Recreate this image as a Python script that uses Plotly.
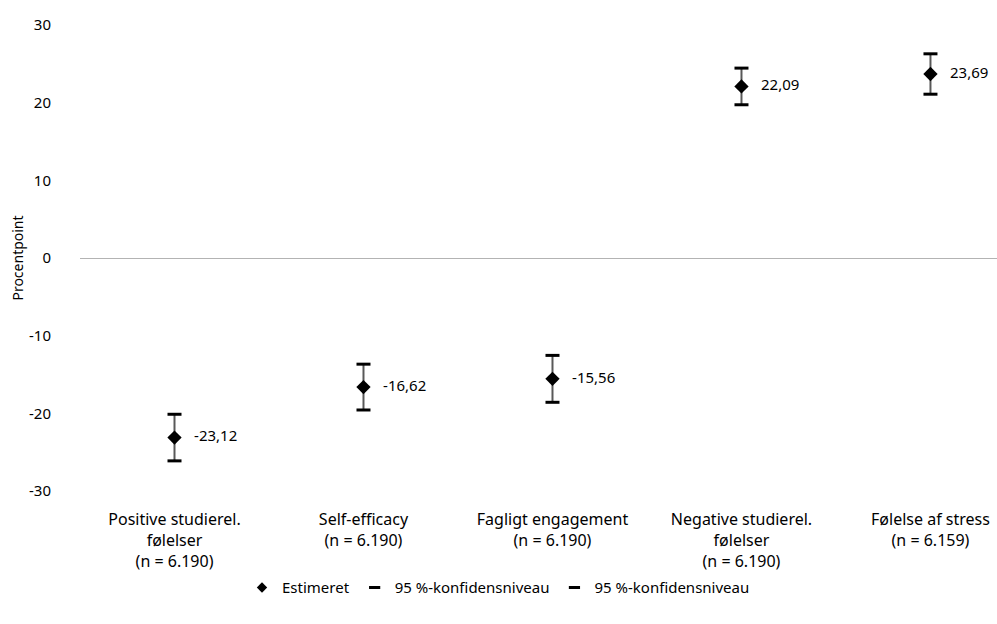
import plotly.graph_objects as go

categories = [
    "Positive studierel.<br>følelser<br>(n = 6.190)",
    "Self-efficacy<br>(n = 6.190)",
    "Fagligt engagement<br>(n = 6.190)",
    "Negative studierel.<br>følelser<br>(n = 6.190)",
    "Følelse af stress<br>(n = 6.159)",
]
estimate = [-23.12, -16.62, -15.56, 22.09, 23.69]
upper = [-20.12, -13.67, -12.54, 24.45, 26.29]
lower = [-26.12, -19.57, -18.58, 19.73, 21.09]
labels = ["-23,12", "-16,62", "-15,56", "22,09", "23,69"]
y_ticks = [-30, -20, -10, 0, 10, 20, 30]

xpos = list(range(len(categories)))
FONT = "Noto Sans"
CI_NAME = "95 %-konfidensniveau"

fig = go.Figure()

fig.add_trace(go.Scatter(
    x=xpos, y=estimate, mode="markers+text", name="Estimeret", showlegend=False,
    marker=dict(symbol="diamond", size=11, color="black"),
    text=["\u00a0\u00a0\u00a0" + t for t in labels], textposition="middle right",
    textfont=dict(family=FONT, size=15, color="black"),
    error_y=dict(type="data", symmetric=False,
                 array=[u - e for u, e in zip(upper, estimate)],
                 arrayminus=[e - l for e, l in zip(estimate, lower)],
                 width=0, thickness=2, color="#595959"),
    cliponaxis=False,
))
for arr in (upper, lower):
    fig.add_trace(go.Scatter(
        x=xpos, y=arr, mode="markers", name=CI_NAME, showlegend=False,
        marker=dict(symbol="line-ew", size=10, line=dict(width=3, color="black"), color="black"),
        cliponaxis=False,
    ))

# legend entries (small symbols as in the reference)
fig.add_trace(go.Scatter(x=[None], y=[None], mode="markers", name="Estimeret",
                         marker=dict(symbol="diamond", size=8, color="black")))
for _ in range(2):
    fig.add_trace(go.Scatter(x=[None], y=[None], mode="markers", name=CI_NAME,
                             marker=dict(symbol="line-ew", size=8, color="black",
                                         line=dict(width=3, color="black"))))

fig.update_layout(
    width=997, height=624,
    margin=dict(l=80, r=0, t=25, b=133),
    plot_bgcolor="white", paper_bgcolor="white",
    font=dict(family=FONT, size=14, color="black"),
    showlegend=True,
    legend=dict(orientation="h", xref="container", yref="container",
                x=0.5, xanchor="center", y=0.058, yanchor="middle",
                font=dict(family=FONT, size=15, color="black"),
                itemwidth=30, tracegroupgap=0),
)
fig.update_xaxes(
    tickmode="array", tickvals=xpos, ticktext=categories,
    range=[-0.5, 4.352], showgrid=False, showline=False, zeroline=False,
    ticks="", ticklabelstandoff=17,
    tickfont=dict(family=FONT, size=16, color="black"),
)
fig.update_yaxes(
    range=[-30, 30], tickmode="array", tickvals=y_ticks,
    ticktext=[str(v) for v in y_ticks],
    showgrid=False, showline=False,
    zeroline=True, zerolinecolor="#b3b3b3", zerolinewidth=1,
    ticks="", ticklabelstandoff=28,
    title=dict(text="Procentpoint", standoff=2, font=dict(family=FONT, size=14, color="black")),
    tickfont=dict(family=FONT, size=15, color="black"),
)

fig.write_html("out.html")
